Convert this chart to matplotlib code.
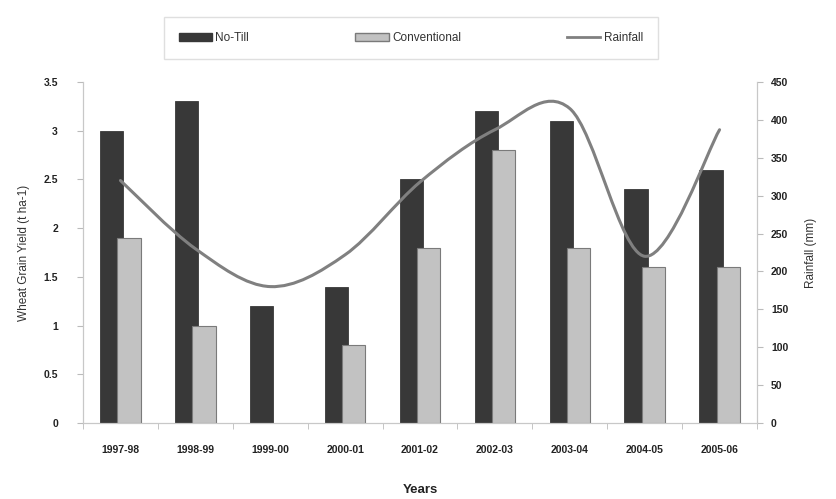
import matplotlib
matplotlib.use("Agg")
import matplotlib.pyplot as plt
from matplotlib.path import Path
from matplotlib.patches import PathPatch
from matplotlib.lines import Line2D
from matplotlib.patches import Patch
import numpy as np

years = ["1997-98", "1998-99", "1999-00", "2000-01", "2001-02",
         "2002-03", "2003-04", "2004-05", "2005-06"]
no_till = [3.0, 3.3, 1.2, 1.4, 2.5, 3.2, 3.1, 2.4, 2.6]
conventional = [1.9, 1.0, 0.0, 0.8, 1.8, 2.8, 1.8, 1.6, 1.6]
rainfall = [320, 230, 180, 222, 318, 387, 415, 220, 387]

plt.rcParams['font.family'] = ['Liberation Sans Narrow', 'Liberation Sans', 'DejaVu Sans']

fig = plt.figure(figsize=(8.36, 4.99), dpi=100)
ax = fig.add_axes([83/836, 1-423/499, (757-83)/836, (423-82)/499])
ax2 = ax.twinx()

x = np.arange(len(years))
w = 0.31
off = 0.115
ax.bar(x - off, no_till, width=w, color='#383838', edgecolor='#383838', linewidth=0.6, zorder=2)
conv_edges = ['#7a7a7a' if v > 0 else 'none' for v in conventional]
ax.bar(x + off, conventional, width=w, color='#c2c2c2', edgecolor=conv_edges, linewidth=0.8, zorder=3)

ax.set_xlim(-0.5, len(years) - 0.5)
ax.set_ylim(0, 3.5)
ax.set_yticks(np.arange(0, 3.51, 0.5))
ax.set_yticklabels(["0", "0.5", "1", "1.5", "2", "2.5", "3", "3.5"])
ax.set_xticks(x)
ax.set_xticklabels(years)
ax.set_xticks(np.arange(-0.5, len(years) + 0.5, 1), minor=True)
ax.tick_params(axis='x', which='major', length=0, pad=16)
ax.tick_params(axis='x', which='minor', length=4, color='#bbbbbb', direction='out')
ax.tick_params(axis='y', length=4, color='#bbbbbb', direction='out', pad=14)
for lab in ax.get_xticklabels() + ax.get_yticklabels():
    lab.set_fontweight('bold')
    lab.set_fontsize(7.5)
    lab.set_color('#222222')

ax2.set_ylim(0, 450)
ax2.set_yticks(np.arange(0, 451, 50))
ax2.tick_params(axis='y', length=4, color='#bbbbbb', direction='out', pad=6)
for lab in ax2.get_yticklabels():
    lab.set_fontweight('bold')
    lab.set_fontsize(7.5)
    lab.set_color('#222222')

for a in (ax, ax2):
    a.spines['top'].set_visible(False)
    for s in ('left', 'right', 'bottom'):
        a.spines[s].set_color('#c8c8c8')
        a.spines[s].set_linewidth(0.8)

# smoothed rainfall line (Excel-style Bezier through the data points)
pts = np.column_stack([x, rainfall]).astype(float)
verts = [tuple(pts[0])]
codes = [Path.MOVETO]
n = len(pts)
for i in range(n - 1):
    p0 = pts[i - 1] if i > 0 else pts[i]
    p1 = pts[i]
    p2 = pts[i + 1]
    p3 = pts[i + 2] if i + 2 < n else pts[i + 1]
    c1 = p1 + (p2 - p0) / 6.0
    c2 = p2 - (p3 - p1) / 6.0
    verts += [tuple(c1), tuple(c2), tuple(p2)]
    codes += [Path.CURVE4] * 3
ax2.add_patch(PathPatch(Path(verts, codes), facecolor='none', edgecolor='#808080',
                        linewidth=2.2, zorder=5, capstyle='round'))

ax.set_ylabel("Wheat Grain Yield (t ha-1)", fontsize=8.5, color='#333333', labelpad=10)
ax2.set_ylabel("Rainfall (mm)", fontsize=8.5, color='#333333', labelpad=12)
fig.text((83 + 757) / 2 / 836, 1 - 490 / 499, "Years", ha='center', va='center',
         fontsize=9.5, fontweight='bold', color='#222222')

handles = [Patch(facecolor='#383838', edgecolor='#383838', label='No-Till'),
           Patch(facecolor='#c2c2c2', edgecolor='#7a7a7a', label='Conventional'),
           Line2D([0], [0], color='#808080', linewidth=2.0, label='Rainfall')]
leg = fig.legend(handles=handles, loc='center', ncol=3,
                 bbox_to_anchor=(411 / 836, 1 - 38 / 499), frameon=True,
                 fontsize=8.5, columnspacing=9.0, handlelength=2.8, handletextpad=0.3,
                 borderpad=1.3, borderaxespad=0, fancybox=False, handleheight=0.6)
leg.get_frame().set_edgecolor('#d8d8d8')
leg.get_frame().set_linewidth(1.0)
for t in leg.get_texts():
    t.set_color('#333333')

fig.savefig("out.png", dpi=100)
